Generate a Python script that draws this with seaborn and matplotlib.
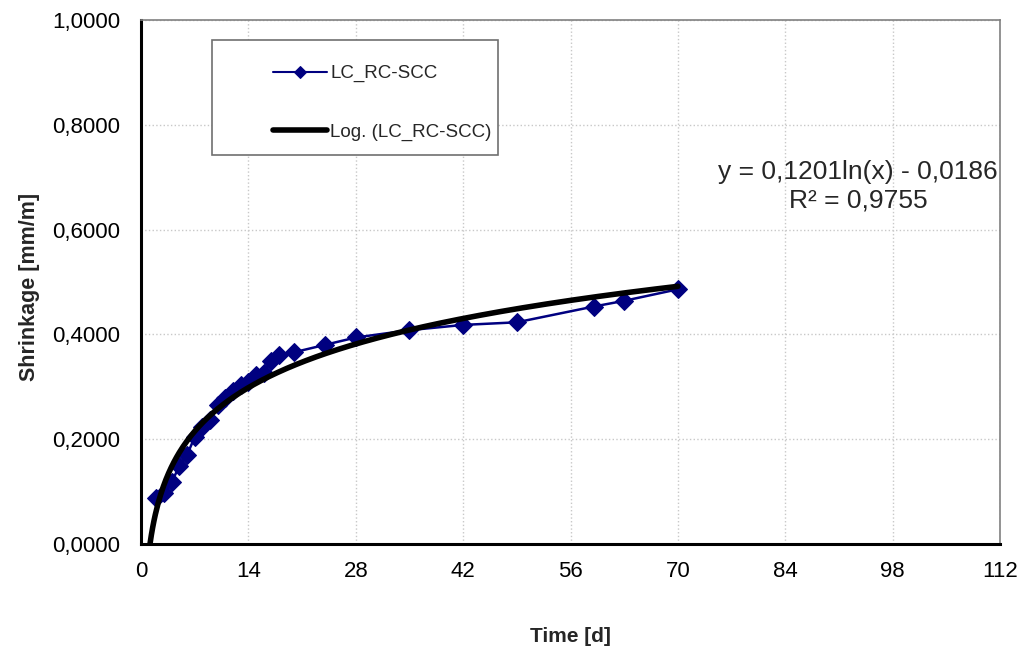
import matplotlib
matplotlib.use("Agg")
import matplotlib.pyplot as plt
from matplotlib.ticker import MultipleLocator, FuncFormatter
from matplotlib.patches import Rectangle
import seaborn as sns
import numpy as np
import pandas as pd

# measured shrinkage
days = [2, 3, 4, 5, 6, 7, 8, 9, 10, 11, 12, 13, 14, 15, 16, 17, 18, 20, 24, 28,
        35, 42, 49, 59, 63, 70]
shrinkage = [0.088, 0.097, 0.118, 0.149, 0.170, 0.204, 0.223, 0.237, 0.265, 0.278,
             0.292, 0.303, 0.310, 0.322, 0.327, 0.350, 0.361, 0.366, 0.380, 0.394,
             0.408, 0.418, 0.423, 0.453, 0.464, 0.486]

# log trendline coefficients as printed on the chart
fit_a = 0.1201
fit_b = -0.0186
r2 = 0.9755

x_ticks = [0, 14, 28, 42, 56, 70, 84, 98, 112]
y_ticks = [0.0, 0.2, 0.4, 0.6, 0.8, 1.0]

sns.set_style("white")
plt.rcParams['font.family'] = ['Liberation Sans', 'DejaVu Sans']

df = pd.DataFrame({'day': days, 'shrinkage': shrinkage})
fit_x = np.linspace(1.0, 70, 400)
fit_df = pd.DataFrame({'day': fit_x, 'shrinkage': fit_a * np.log(fit_x) + fit_b})

fig = plt.figure(figsize=(10.19, 6.51), dpi=100)
ax = fig.add_axes([0.1384, 0.1644, 0.843, 0.805])

sns.lineplot(data=df, x='day', y='shrinkage', ax=ax, color='#000080',
             marker='D', markersize=9, markeredgecolor='#000080', linewidth=1.8,
             label='LC_RC-SCC', zorder=3)
sns.lineplot(data=fit_df, x='day', y='shrinkage', ax=ax, color='black',
             linewidth=4, label='Log. (LC_RC-SCC)', zorder=4)

ax.set_xlim(0, 112)
ax.set_ylim(0, 1.0)
ax.set_xticks(x_ticks)
ax.set_yticks(y_ticks)
ax.xaxis.set_minor_locator(MultipleLocator(7))
ax.yaxis.set_minor_locator(MultipleLocator(0.1))
ax.yaxis.set_major_formatter(FuncFormatter(lambda v, p: f"{v:.4f}".replace('.', ',')))
ax.tick_params(axis='both', which='both', direction='in', labelsize=16,
               length=5, width=1.2, colors='black')
ax.tick_params(axis='x', pad=12)
ax.tick_params(axis='y', pad=15)

ax.grid(True, which='major', color='#c8c8c8', linestyle=':', linewidth=1)
ax.set_axisbelow(True)
for side in ['left', 'bottom']:
    ax.spines[side].set_color('black')
    ax.spines[side].set_linewidth(2.2)
for side in ['top', 'right']:
    ax.spines[side].set_color('#808080')
    ax.spines[side].set_linewidth(1.2)

ax.set_xlabel('Time [d]', fontsize=15, fontweight='bold', labelpad=33)
ax.set_ylabel('Shrinkage [mm/m]', fontsize=15.5, fontweight='bold')
ax.yaxis.set_label_coords(-0.118, 0.49)

ax.text(93.5, 0.683, 'y = 0,1201ln(x) - 0,0186\nR² = 0,9755', ha='center', va='center',
        fontsize=19, linespacing=1.25)

# legend frame drawn separately so the padding can match the original box
ax.add_patch(Rectangle((0.0827, 0.742), 0.333, 0.220, transform=ax.transAxes,
                       facecolor='white', edgecolor='#707070', linewidth=1.2, zorder=5))
leg = ax.legend(loc='upper left', bbox_to_anchor=(0.1537, 0.914), fontsize=13.5,
                frameon=False, handlelength=2.9, handletextpad=0.15,
                labelspacing=2.2, borderpad=0, borderaxespad=0)
leg.set_zorder(6)
for h in leg.get_lines():
    if h.get_marker() == 'D':
        h.set_markersize(6)
        h.set_linewidth(1.5)

fig.savefig('out.png', dpi=100)
